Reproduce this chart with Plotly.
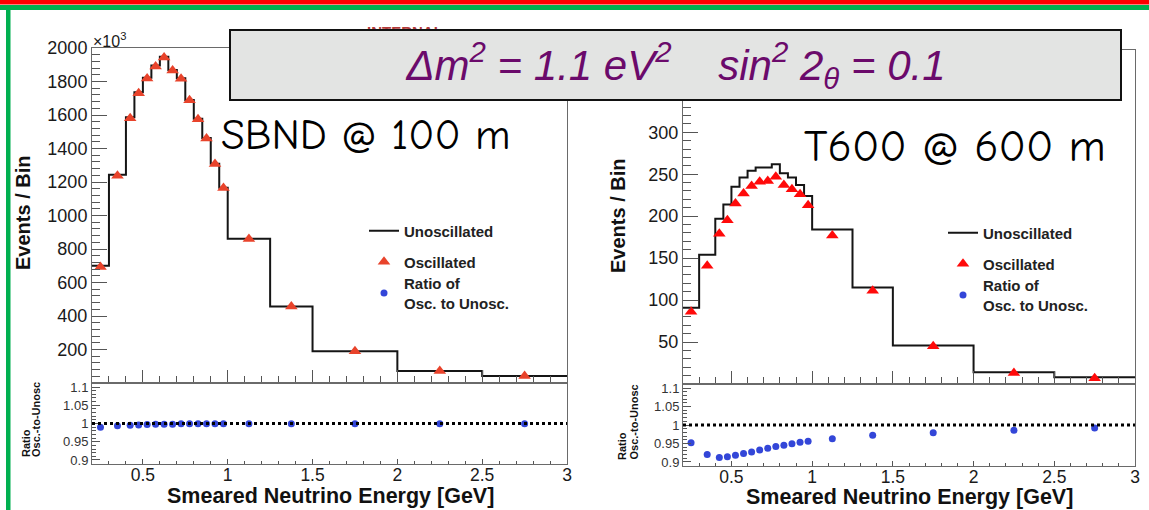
import plotly.graph_objects as go

W, H = 1149, 510

# ---------------- data ----------------
BIN_EDGES = [0.2, 0.3, 0.4, 0.45, 0.5, 0.55, 0.6, 0.65, 0.7, 0.75, 0.8, 0.85,
             0.9, 0.95, 1.0, 1.25, 1.5, 2.0, 2.5, 3.0]
SBND_UNOSC = [700, 1244, 1587, 1736, 1823, 1895, 1948, 1869, 1820, 1690, 1577,
              1462, 1309, 1165, 861, 456, 189, 71, 42]
SBND_OSC = [692, 1237, 1580, 1730, 1818, 1890, 1944, 1866, 1817, 1688, 1575,
            1460, 1308, 1164, 860, 456, 189, 71, 42]
SBND_RATIO = [0.990, 0.994, 0.995, 0.996, 0.997, 0.998, 0.998, 0.998, 0.999,
              0.999, 0.999, 0.999, 0.999, 0.999, 0.9995, 0.9995, 0.9995,
              0.9995, 0.9995]
T600_UNOSC = [91, 154, 197, 214, 235, 246, 254, 258, 258, 262, 251, 246, 237,
              224, 184, 115, 46, 14, 8]
T600_OSC = [86, 141, 179, 195, 215, 227, 236, 241, 242, 247, 237, 232, 226,
            213, 177, 111, 45, 13, 7]
T600_RATIO = [0.952, 0.920, 0.912, 0.914, 0.918, 0.923, 0.927, 0.932, 0.937,
              0.942, 0.945, 0.949, 0.953, 0.956, 0.963, 0.972, 0.979, 0.986,
              0.992]

X_TICKS = [0.5, 1.0, 1.5, 2.0, 2.5, 3.0]
X_TICK_TEXT = ["0.5", "1", "1.5", "2", "2.5", "3"]
SBND_Y_TICKS = [200, 400, 600, 800, 1000, 1200, 1400, 1600, 1800, 2000]
T600_Y_TICKS = [50, 100, 150, 200, 250, 300, 350]
RATIO_TICKS = [0.9, 0.95, 1.0, 1.05, 1.1]
RATIO_TICK_TEXT = ["0.9", "0.95", "1", "1.05", "1.1"]
RATIO_REF = 1.0

CENTERS = [(a + b) / 2 for a, b in zip(BIN_EDGES[:-1], BIN_EDGES[1:])]

FONT = "Liberation Sans, Arial, Helvetica, sans-serif"
HAND = "Comic Sans MS, Comic Neue, Noto Sans, sans-serif"


def px(xp):
    return xp / W


def py(yp):
    return 1 - yp / H


fig = go.Figure()

panels = [
    dict(unosc=SBND_UNOSC, osc=SBND_OSC, ratio=SBND_RATIO, xa="x", ya="y",
         xr="x2", yr="y2", tri="#e8432b", leg=("legend", "legend2", "legend3")),
    dict(unosc=T600_UNOSC, osc=T600_OSC, ratio=T600_RATIO, xa="x3", ya="y3",
         xr="x4", yr="y4", tri="#ff0a0a", leg=("legend4", "legend5", "legend6")),
]

for p in panels:
    fig.add_trace(go.Scatter(
        x=BIN_EDGES, y=p["unosc"] + [p["unosc"][-1]], mode="lines",
        line=dict(shape="hv", color="#151515", width=2), showlegend=True,
        xaxis=p["xa"], yaxis=p["ya"], name="Unoscillated", legend=p["leg"][0]))
    fig.add_trace(go.Scatter(
        x=CENTERS, y=p["osc"], mode="markers",
        marker=dict(symbol="triangle-up", size=11, color=p["tri"]),
        cliponaxis=False, showlegend=True,
        xaxis=p["xa"], yaxis=p["ya"], name="Oscillated", legend=p["leg"][1]))
    fig.add_trace(go.Scatter(
        x=CENTERS, y=p["ratio"], mode="markers",
        marker=dict(symbol="circle", size=7, color="#3346d8"),
        cliponaxis=False, showlegend=True,
        xaxis=p["xr"], yaxis=p["yr"], name="Ratio of<br>Osc. to Unosc.",
        legend=p["leg"][2]))

frame = dict(showline=True, linecolor="#6a6a6a", linewidth=1, mirror=True,
             ticks="inside", tickcolor="#555", showgrid=False, zeroline=False)

LX = (92, 567)
RX = (683, 1135)


def upper_x(dom, anchor):
    return dict(frame, domain=[px(dom[0]), px(dom[1])], anchor=anchor,
                range=[0.2, 3.0], tickmode="array", tickvals=X_TICKS,
                showticklabels=False, ticklen=13,
                minor=dict(tickmode="linear", tick0=0, dtick=0.1, ticklen=7,
                           ticks="inside", tickcolor="#555"))


def ratio_x(dom, anchor):
    return dict(frame, domain=[px(dom[0]), px(dom[1])], anchor=anchor,
                range=[0.2, 3.0], tickmode="array", tickvals=X_TICKS,
                ticktext=X_TICK_TEXT, ticklen=5, ticklabelstandoff=-5,
                tickfont=dict(family=FONT, size=17.5, color="#1a1a1a"),
                minor=dict(tickmode="linear", tick0=0, dtick=0.1, ticklen=3,
                           ticks="inside", tickcolor="#555"))


def ratio_y(top, bot, anchor):
    return dict(frame, domain=[py(bot), py(top)], anchor=anchor,
                range=[0.889, 1.111], tickmode="array", tickvals=RATIO_TICKS,
                ticktext=RATIO_TICK_TEXT, ticklen=8,
                tickfont=dict(family=FONT, size=13, color="#333"),
                minor=dict(tickmode="linear", tick0=0.9, dtick=0.01, ticklen=4,
                           ticks="inside", tickcolor="#555"))


fig.update_layout(
    width=W, height=H, margin=dict(l=0, r=0, t=0, b=0, autoexpand=False),
    paper_bgcolor="white", plot_bgcolor="white", showlegend=True,
    xaxis=upper_x(LX, "y"),
    yaxis=dict(frame, domain=[py(383), py(48)], anchor="x", range=[0, 2000],
               tickmode="array", tickvals=SBND_Y_TICKS, ticklen=15,
               tickfont=dict(family=FONT, size=18, color="#1a1a1a"),
               minor=dict(tickmode="linear", tick0=0, dtick=40, ticklen=8,
                          ticks="inside", tickcolor="#555")),
    xaxis2=ratio_x(LX, "y2"),
    yaxis2=ratio_y(383, 464, "x2"),
    xaxis3=upper_x(RX, "y3"),
    yaxis3=dict(frame, domain=[py(384), py(50)], anchor="x3", range=[0, 398],
                tickmode="array", tickvals=T600_Y_TICKS, ticklen=15,
                tickfont=dict(family=FONT, size=18, color="#1a1a1a"),
                minor=dict(tickmode="linear", tick0=0, dtick=10, ticklen=8,
                           ticks="inside", tickcolor="#555")),
    xaxis4=ratio_x(RX, "y4"),
    yaxis4=ratio_y(384, 466, "x4"),
)

# legends (one per entry, placed like the ROOT TLegend rows)
leg_font = dict(family=FONT, size=15, color="#222", weight="bold")
leg_rows = [("legend", 364, 231), ("legend2", 364, 262), ("legend3", 364, 293),
            ("legend4", 943, 233), ("legend5", 943, 264), ("legend6", 943, 295)]
for name, lx, ly in leg_rows:
    fig.update_layout({name: dict(x=px(lx), y=py(ly), xanchor="left",
                                  yanchor="middle", bgcolor="rgba(0,0,0,0)",
                                  borderwidth=0, font=leg_font, visible=True,
                                  itemsizing="trace")})

# dotted reference lines at ratio = 1
for xr, yr in [("x2", "y2"), ("x4", "y4")]:
    fig.add_shape(type="line", xref=f"{xr} domain", yref=yr, x0=0, x1=1,
                  y0=RATIO_REF, y1=RATIO_REF,
                  line=dict(color="black", width=3, dash="dot"))

# slide decorations: red bar and green frame
fig.add_shape(type="rect", xref="paper", yref="paper", x0=0, x1=1,
              y0=py(4.5), y1=1, fillcolor="#ff0000", line_width=0)
fig.add_shape(type="rect", xref="paper", yref="paper", x0=0, x1=1,
              y0=py(10), y1=py(5), fillcolor="#00b050", line_width=0)
fig.add_shape(type="rect", xref="paper", yref="paper", x0=px(6), x1=px(10.5),
              y0=0, y1=py(5), fillcolor="#00b050", line_width=0)

ann = []
# axis titles
for xc, yc in [(23, 213), (618, 216)]:
    ann.append(dict(x=px(xc), y=py(yc), text="Events / Bin", textangle=-90,
                    font=dict(family=FONT, size=20, color="#111", weight="bold")))
for xr1, xr2, ybot in [(26, 35.5, 459), (622, 633, 462)]:
    ann.append(dict(x=px(xr1), y=py(ybot), yanchor="bottom", text="Ratio",
                    textangle=-90,
                    font=dict(family=FONT, size=11, color="#111", weight="bold")))
    ann.append(dict(x=px(xr2), y=py(ybot), yanchor="bottom",
                    text="Osc.-to-Unosc", textangle=-90,
                    font=dict(family=FONT, size=11, color="#111", weight="bold")))
for xc, yc in [(330, 496), (909, 497)]:
    ann.append(dict(x=px(xc), y=py(yc), text="Smeared Neutrino Energy [GeV]",
                    borderpad=0,
                    font=dict(family=FONT, size=21.5, color="#111", weight="bold")))
# exponent label
ann.append(dict(x=px(91), y=py(40), xanchor="left", text="×10<sup>3</sup>",
                font=dict(family=FONT, size=16, color="#1a1a1a")))
# detector labels
ann.append(dict(x=px(366), y=py(135), text="SBND @ 100 m",
                font=dict(family=HAND, size=43, color="black")))
ann.append(dict(x=px(955), y=py(146), text="T600 @ 600 m",
                font=dict(family=HAND, size=45, color="black")))
# hidden watermark, then parameter box on top
ann.append(dict(x=px(405), y=py(21), yanchor="top", text="INTERNAL",
                font=dict(family=FONT, size=15, color="#b23a3a", weight="bold")))
ann.append(dict(x=px(675.5), y=py(65), width=889, height=68,
                bgcolor="#e3e4e3", bordercolor="#111", borderwidth=2, borderpad=0,
                text="<i>Δm<sup>2</sup> = 1.1 eV<sup>2</sup>    sin<sup>2</sup> 2<sub>θ</sub> = 0.1</i>",
                font=dict(family=FONT, size=42, color="#6b0a6b")))

for a in ann:
    a.setdefault("xref", "paper")
    a.setdefault("yref", "paper")
    a.setdefault("xanchor", "center")
    a.setdefault("yanchor", "middle")
    a.setdefault("showarrow", False)
fig.update_layout(annotations=ann)

fig.write_html("out.html", config={"displayModeBar": False},
               post_script="document.body.style.margin='0px';")
